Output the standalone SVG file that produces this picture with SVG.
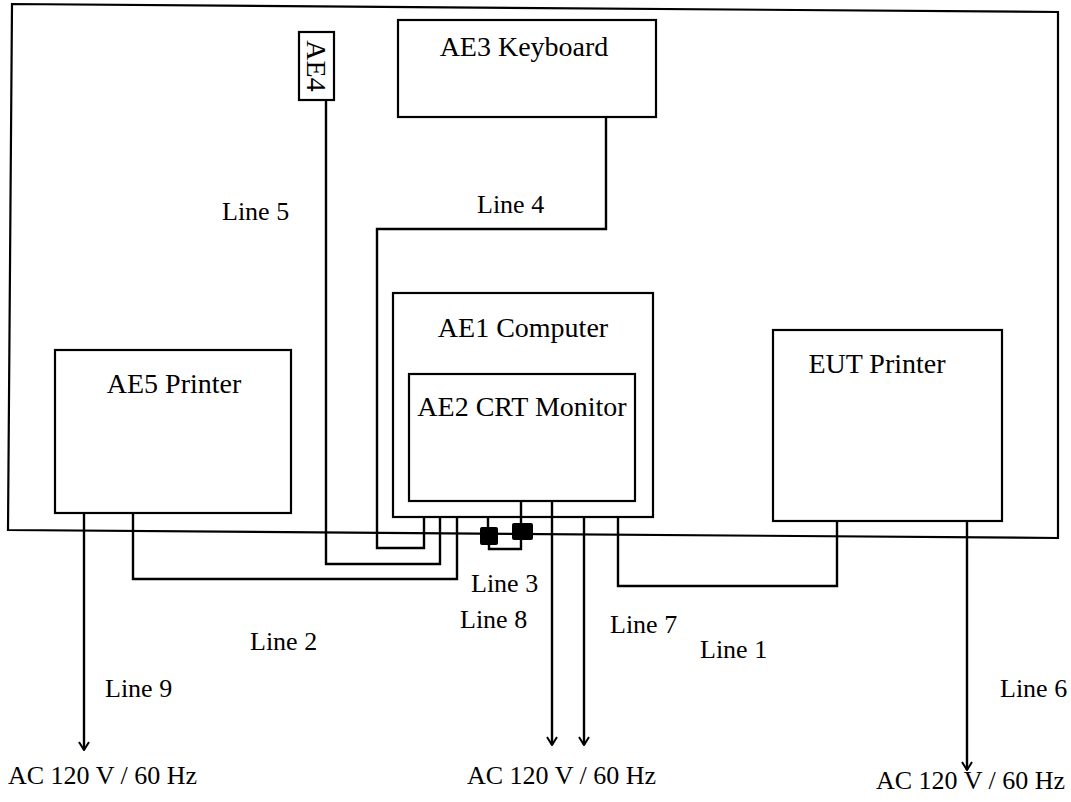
<svg xmlns="http://www.w3.org/2000/svg" width="1071" height="802" viewBox="0 0 1071 802">
<style>
.box{fill:none;stroke:#000;stroke-width:2.2}
.w{fill:none;stroke:#000;stroke-width:2.4;stroke-linejoin:miter}
text{font-family:'Liberation Serif','Times New Roman','DejaVu Serif',serif;font-size:26px;fill:#000}
.n{font-size:28px;text-anchor:middle}
.sq{fill:#000}
</style>
<defs>
<marker id="arr" viewBox="0 0 12 12" refX="11" refY="6" markerWidth="12" markerHeight="12" markerUnits="userSpaceOnUse" orient="auto">
<path d="M3,1 L11,6 L3,11" fill="none" stroke="#000" stroke-width="2"/>
</marker>
</defs>
<rect width="1071" height="802" fill="#fff"/>
<g id="table"><path class="box" d="M12,4 L1058,12 L1058,538 L8,530 Z"/></g>
<g id="ae4"><rect class="box" x="299" y="32" width="35" height="68"/><text class="n" transform="translate(307,66) rotate(90)">AE4</text></g>
<g id="ae3"><rect class="box" x="398" y="20" width="258" height="97"/><text class="n" x="524" y="56">AE3 Keyboard</text></g>
<g id="ae1"><rect class="box" x="393" y="293" width="260" height="224"/><text class="n" x="523" y="337">AE1 Computer</text></g>
<g id="ae2"><rect class="box" x="409" y="374" width="226" height="127"/><text class="n" x="522" y="416">AE2 CRT Monitor</text></g>
<g id="ae5"><rect class="box" x="55" y="350" width="236" height="163"/><text class="n" x="174" y="393">AE5 Printer</text></g>
<g id="eut"><rect class="box" x="773" y="330" width="229" height="191"/><text class="n" x="877" y="373">EUT Printer</text></g>
<g id="ferrites"><rect class="sq" x="480" y="527" width="18" height="18" rx="2"/><rect class="sq" x="512" y="523" width="21" height="17" rx="2"/></g>
<g id="connectors">
<path class="w" d="M618,517 V586 H837 V521"/>
<path class="w" d="M133,513 V579 H457 V517"/>
<path class="w" d="M488,517 V527 M489,545 V549 H521 V540 M521,501 V523"/>
<path class="w" d="M606,117 V229 H377 V548 H424 V517"/>
<path class="w" d="M326,100 V564 H440 V517"/>
<path class="w" d="M967,521 V770" marker-end="url(#arr)"/>
<path class="w" d="M584,517 V745" marker-end="url(#arr)"/>
<path class="w" d="M552,501 V745" marker-end="url(#arr)"/>
<path class="w" d="M84,513 V750" marker-end="url(#arr)"/>
</g>
<g id="labels">
<text x="222" y="220">Line 5</text>
<text x="477" y="213">Line 4</text>
<text x="471" y="592">Line 3</text>
<text x="250" y="650">Line 2</text>
<text x="700" y="658">Line 1</text>
<text x="460" y="628">Line 8</text>
<text x="610" y="633">Line 7</text>
<text x="105" y="697">Line 9</text>
<text x="1000" y="697">Line 6</text>
<text x="8" y="784">AC 120 V / 60 Hz</text>
<text x="467" y="784">AC 120 V / 60 Hz</text>
<text x="876" y="789">AC 120 V / 60 Hz</text>
</g>
</svg>
